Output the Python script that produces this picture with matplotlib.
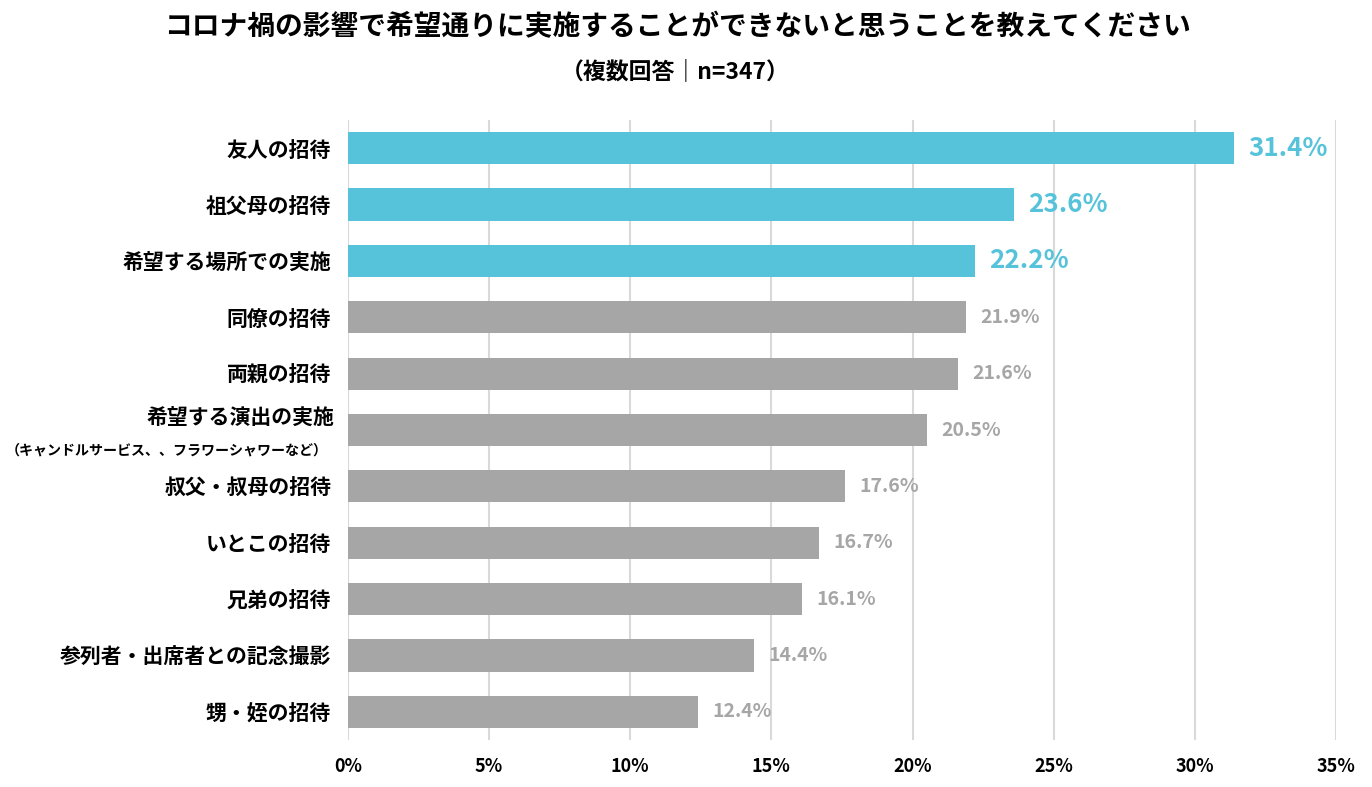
import matplotlib
matplotlib.use("Agg")
import matplotlib.pyplot as plt
from matplotlib.transforms import blended_transform_factory

plt.rcParams['font.family'] = ['Noto Sans CJK JP', 'DejaVu Sans']

categories = ["友人の招待", "祖父母の招待", "希望する場所での実施", "同僚の招待", "両親の招待",
              "希望する演出の実施", "叔父・叔母の招待", "いとこの招待", "兄弟の招待",
              "参列者・出席者との記念撮影", "甥・姪の招待"]
sub_label = "（キャンドルサービス、、フラワーシャワーなど）"
values = [31.4, 23.6, 22.2, 21.9, 21.6, 20.5, 17.6, 16.7, 16.1, 14.4, 12.4]
highlight = [True, True, True, False, False, False, False, False, False, False, False]
xticks = [0, 5, 10, 15, 20, 25, 30, 35]
title = "コロナ禍の影響で希望通りに実施することができないと思うことを教えてください"
subtitle = "（複数回答｜n=347）"

blue = "#57C3DA"
gray = "#A6A6A6"

fig = plt.figure(figsize=(13.72, 7.87), dpi=100)
ax = fig.add_axes([0.2536, 0.0597, 0.7202, 0.7878])

ypos = list(range(len(categories)))
colors = [blue if h else gray for h in highlight]
ax.barh(ypos, values, height=0.57, color=colors, zorder=3)

for y, v, h in zip(ypos, values, highlight):
    if h:
        ax.text(v + 0.5, y, f"{v:.1f}%", va="center", ha="left", color=blue,
                fontsize=18.7, fontweight="bold", zorder=4)
    else:
        ax.text(v + 0.5, y, f"{v:.1f}%", va="center", ha="left", color=gray,
                fontsize=14, fontweight="bold", zorder=4)

ax.set_xlim(0, 35)
ax.set_ylim(len(categories) - 0.5, -0.5)
ax.set_xticks(xticks)
ax.set_xticklabels([f"{t}%" for t in xticks], fontsize=13, fontweight="bold")
ax.set_yticks(ypos)
labels = [c if i != 5 else "" for i, c in enumerate(categories)]
ax.set_yticklabels(labels, fontsize=15, fontweight="bold")
ax.tick_params(axis="both", length=0)
ax.tick_params(axis="y", pad=12)
ax.tick_params(axis="x", pad=12)

trans = blended_transform_factory(ax.transAxes, ax.transData)
ax.text(-14 / 988, 5 - 0.2, categories[5], transform=trans, ha="right", va="center",
        fontsize=15, fontweight="bold")
ax.text(-20 / 988, 5 + 0.36, sub_label, transform=trans, ha="right", va="center",
        fontsize=10.1, fontweight="bold")

ax.grid(axis="x", color="#D9D9D9", linewidth=1.5, zorder=0)
ax.grid(axis="y", visible=False)
for s in ax.spines.values():
    s.set_visible(False)

fig.text(0.4934, 1 - 27 / 787, title, ha="center", va="center", fontsize=20, fontweight="bold")
fig.text(0.4922, 1 - 72 / 787, subtitle, ha="center", va="center", fontsize=16.5, fontweight="bold")

fig.savefig("out.png", dpi=100)
